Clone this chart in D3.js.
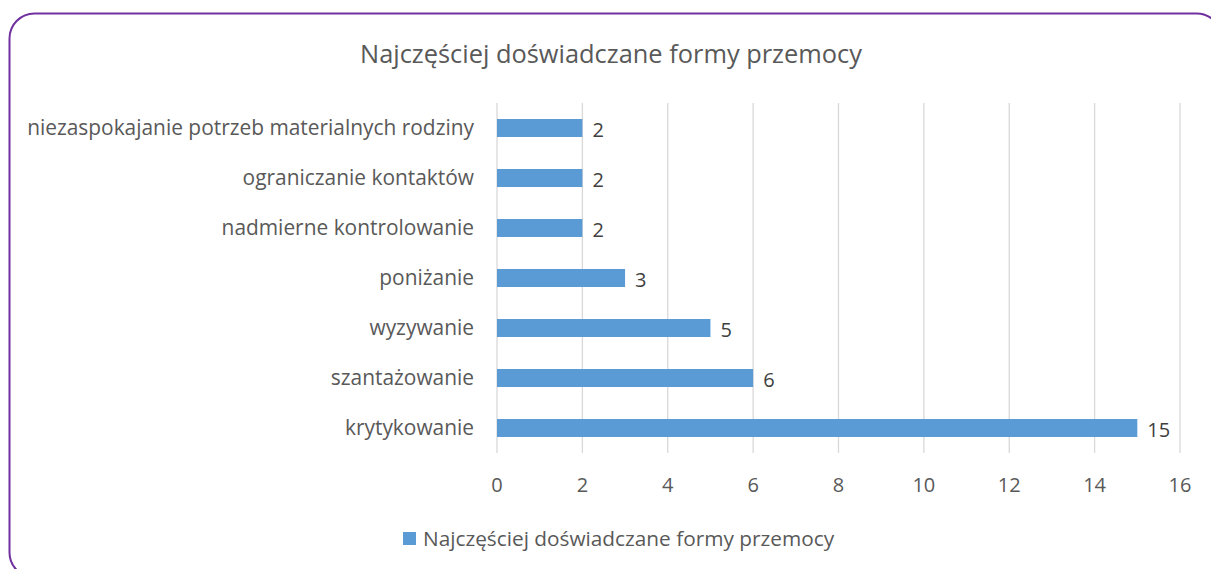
<!DOCTYPE html>
<html>
<head>
<meta charset="utf-8">
<script src="https://cdn.jsdelivr.net/npm/d3@7"></script>
<style>
  body { margin: 0; background: #fff; }
  svg { display: block; font-family: "Open Sans", "Noto Sans", sans-serif; }
</style>
</head>
<body>
<svg width="1211" height="569"></svg>
<script>
const svg = d3.select("svg");

// chart data
const title = "Najczęściej doświadczane formy przemocy";
const categories = [
  "niezaspokajanie potrzeb materialnych rodziny",
  "ograniczanie kontaktów",
  "nadmierne kontrolowanie",
  "poniżanie",
  "wyzywanie",
  "szantażowanie",
  "krytykowanie"
];
const values = [2, 2, 2, 3, 5, 6, 15];
const xTicks = [0, 2, 4, 6, 8, 10, 12, 14, 16];

const textColor = "#595959";
const barColor = "#5B9BD5";

// frame
svg.append("rect")
  .attr("x", 9.5).attr("y", 13.5)
  .attr("width", 1212).attr("height", 564)
  .attr("rx", 25).attr("ry", 25)
  .attr("fill", "none")
  .attr("stroke", "#7030A0")
  .attr("stroke-width", 2);

svg.append("text")
  .attr("x", 611).attr("y", 63)
  .attr("text-anchor", "middle")
  .attr("font-size", 25.4)
  .attr("fill", textColor)
  .text(title);

const x = d3.scaleLinear().domain([0, 16]).range([497, 1180]);
const y = d3.scaleBand().domain(categories).range([103, 453]).paddingInner(0.64).paddingOuter(0.32);

// grid lines
svg.append("g").selectAll("line")
  .data(xTicks)
  .enter().append("line")
  .attr("x1", d => x(d)).attr("x2", d => x(d))
  .attr("y1", 103).attr("y2", 453)
  .attr("stroke", "#d9d9d9")
  .attr("stroke-width", 1.3);

// x tick labels
svg.append("g").selectAll("text")
  .data(xTicks)
  .enter().append("text")
  .attr("x", d => x(d)).attr("y", 492)
  .attr("text-anchor", "middle")
  .attr("font-size", 20)
  .attr("fill", textColor)
  .text(d => d);

// bars
svg.append("g").selectAll("rect")
  .data(values)
  .enter().append("rect")
  .attr("x", x(0))
  .attr("y", (d, i) => y(categories[i]))
  .attr("width", d => x(d) - x(0))
  .attr("height", y.bandwidth())
  .attr("fill", barColor);

// value labels
svg.append("g").selectAll("text")
  .data(values)
  .enter().append("text")
  .attr("x", d => x(d) + 10)
  .attr("y", (d, i) => y(categories[i]) + y.bandwidth() / 2 + 2)
  .attr("dy", "0.35em")
  .attr("font-size", 20)
  .attr("fill", "#404040")
  .text(d => d);

// category labels
svg.append("g").selectAll("text")
  .data(categories)
  .enter().append("text")
  .attr("x", 474)
  .attr("y", d => y(d) + y.bandwidth() / 2)
  .attr("dy", "0.35em")
  .attr("text-anchor", "end")
  .attr("font-size", 20.9)
  .attr("fill", textColor)
  .text(d => d);

// legend
svg.append("rect")
  .attr("x", 403).attr("y", 532)
  .attr("width", 13).attr("height", 13)
  .attr("fill", barColor);
svg.append("text")
  .attr("x", 423).attr("y", 546)
  .attr("font-size", 20.8)
  .attr("fill", textColor)
  .text(title);
</script>
</body>
</html>
